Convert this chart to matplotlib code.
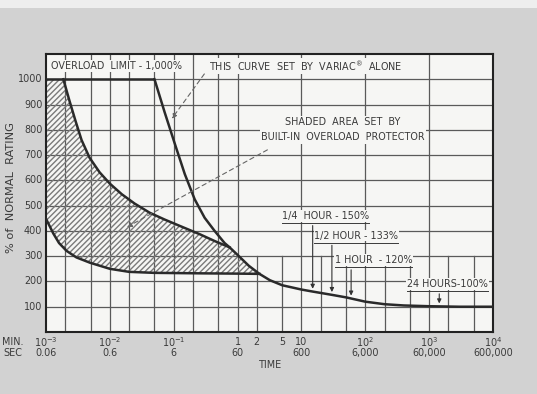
import numpy as np
import matplotlib.pyplot as plt
from matplotlib.transforms import blended_transform_factory

# time in minutes, load in % of normal rating
prot_t = [1.87e-3, 2.33e-3, 2.9e-3, 3.6e-3, 4.8e-3, 6.9e-3, 0.01, 0.0154, 0.0245,
          0.042, 0.072, 0.124, 0.255, 0.437, 0.75]
prot_p = [1000, 915, 835, 760, 690, 632, 587, 545, 508, 472, 445, 420, 387, 360, 335]

variac_t = [0.05, 0.072, 0.104, 0.149, 0.213, 0.305, 0.437, 0.626, 0.75, 1.0, 1.5, 2.2,
            3.2, 5, 10, 15, 30, 50, 100, 200, 400, 1000, 3000, 10000]
variac_p = [1000, 870, 745, 625, 525, 452, 400, 352, 335, 305, 262, 230,
            205, 185, 168, 160, 147, 137, 120, 110, 105, 102, 100, 100]

low_t = [1e-3, 1.3e-3, 1.6e-3, 2.1e-3, 3e-3, 4.9e-3, 0.01, 0.02, 0.05, 0.3, 1.0, 2.2]
low_p = [448, 390, 352, 321, 295, 274, 250, 238, 234, 232, 231, 230]

limit = 1000
yticks = [100, 200, 300, 400, 500, 600, 700, 800, 900, 1000]
decades = [1e-3, 1e-2, 1e-1, 1, 10, 100, 1000, 10000]
min_labels = [r'$10^{-3}$', r'$10^{-2}$', r'$10^{-1}$', '1', '10', r'$10^{2}$', r'$10^{3}$', r'$10^{4}$']
sec_labels = ['0.06', '0.6', '6', '60', '600', '6,000', '60,000', '600,000']

# arrow notes on the long-time curve: label, label start (min), label height (%), arrow time, % on curve
notes = [('1/4  HOUR - 150%', 5.0, 440, 15, 160),
         ('1/2 HOUR - 133%', 16, 362, 30, 147),
         ('1 HOUR  - 120%', 33, 265, 60, 133),
         ('24 HOURS-100%', 450, 170, 1440, 102)]

ink = '#2a2a2a'
gridc = '#5a5a5a'
paper = '#f6f6f4'

fig = plt.figure(figsize=(5.37, 3.94), dpi=100)
fig.patch.set_facecolor('#d2d2d2')
fig.patches.append(plt.Rectangle((0, 386/394), 1, 8/394, transform=fig.transFigure,
                                 facecolor='#eeeeee', edgecolor='none'))
ax = fig.add_axes([46/537, 1-332/394, 447/537, 278/394])
ax.set_facecolor(paper)
ax.set_xscale('log')
ax.set_xlim(1e-3, 1e4)
ax.set_ylim(0, 1100)

# grid: horizontal every 100, vertical at 1-2-5 per decade
for y in range(100, 1100, 100):
    ax.axhline(y, color=gridc, lw=0.9, zorder=1)
for d in decades[:-1]:
    for m in (1, 2, 5):
        x = d * m
        if x <= 1e-3:
            continue
        top = 1 if (x <= 1 or m == 1) else 300/1100
        ax.axvline(x, 0, top, color=gridc, lw=0.9, zorder=1)

# shaded area between protector curve and lower curve
j = variac_t.index(0.75)
k = variac_t.index(2.2)
px = [low_t[0], low_t[0]] + prot_t + variac_t[j+1:k+1] + low_t[::-1]
py = [low_p[0], limit] + prot_p + variac_p[j+1:k+1] + low_p[::-1]
ax.fill(px, py, facecolor='none', edgecolor='#7a7a7a', hatch='//////', lw=0, zorder=2)

ax.hlines(limit, 1e-3, variac_t[0], color=ink, lw=1.8, zorder=4)
ax.plot(prot_t, prot_p, color=ink, lw=1.8, zorder=4, solid_joinstyle='round')
ax.plot(variac_t, variac_p, color=ink, lw=1.8, zorder=4, solid_joinstyle='round')
ax.plot(low_t, low_p, color=ink, lw=1.8, zorder=4, solid_joinstyle='round')

for s in ax.spines.values():
    s.set_linewidth(1.5)
    s.set_color('#222222')
ax.set_xticks([])
ax.set_yticks([])
ax.minorticks_off()

txt = dict(fontsize=6.9, color='#3a3a3a', family='DejaVu Sans')
box = dict(facecolor=paper, edgecolor='none', pad=1.0)

for y in yticks:
    ax.text(-0.008, y, str(y), transform=blended_transform_factory(ax.transAxes, ax.transData),
            ha='right', va='center', **txt)
ax.text(-0.078, 0.52, '% of  NORMAL  RATING', rotation=90, transform=ax.transAxes,
        ha='center', va='center', fontsize=8.2, color='#3a3a3a')

xt = ax.get_xaxis_transform()
for d, a, b in zip(decades, min_labels, sec_labels):
    ax.text(d, -0.035, a, transform=xt, ha='center', va='center', **txt)
    ax.text(d, -0.075, b, transform=xt, ha='center', va='center', **txt)
for m in (2, 5):
    ax.text(m, -0.035, str(m), transform=xt, ha='center', va='center', **txt)
ax.text(-0.075, -0.035, 'MIN.', transform=ax.transAxes, ha='center', va='center', **txt)
ax.text(-0.075, -0.075, 'SEC', transform=ax.transAxes, ha='center', va='center', **txt)
ax.text(3.3, -0.118, 'TIME', transform=xt, ha='center', va='center', **txt)

ax.text(1.2e-3, 1052, 'OVERLOAD  LIMIT - 1,000%', ha='left', va='center', bbox=box, zorder=5, **txt)
ax.text(0.36, 1052, 'THIS  CURVE  SET  BY  VARIAC$^{\\circledR}$  ALONE', ha='left', va='center',
        bbox=box, zorder=5, **txt)
ax.text(45, 800, 'SHADED  AREA  SET  BY\nBUILT-IN  OVERLOAD  PROTECTOR', ha='center', va='center',
        linespacing=1.6, bbox=box, zorder=5, **txt)

dash = dict(arrowstyle='-|>', color='#666666', lw=0.8, ls=(0, (4, 3)), mutation_scale=7)
ax.annotate('', xy=(0.088, 835), xytext=(0.32, 1030), arrowprops=dash, zorder=5)
ax.annotate('', xy=(0.017, 410), xytext=(3.2, 726), arrowprops=dash, zorder=5)

for label, x0, yl, t, p in notes:
    tx = ax.text(x0, yl, label, ha='left', va='bottom', zorder=5,
                 bbox=dict(facecolor=paper, edgecolor='none', pad=0.6), **txt)
    ax.annotate('', xy=(t, p), xytext=(t, yl - 8),
                arrowprops=dict(arrowstyle='-|>', color='#333333', lw=0.8, mutation_scale=6), zorder=5)
    # underline spanning the label
    fig.canvas.draw()
    bb = tx.get_window_extent().transformed(ax.transData.inverted())
    ax.plot([bb.x0, bb.x1], [yl - 8, yl - 8], color='#3a3a3a', lw=0.7, zorder=5)

fig.savefig('out.png', dpi=100, facecolor=fig.get_facecolor())
